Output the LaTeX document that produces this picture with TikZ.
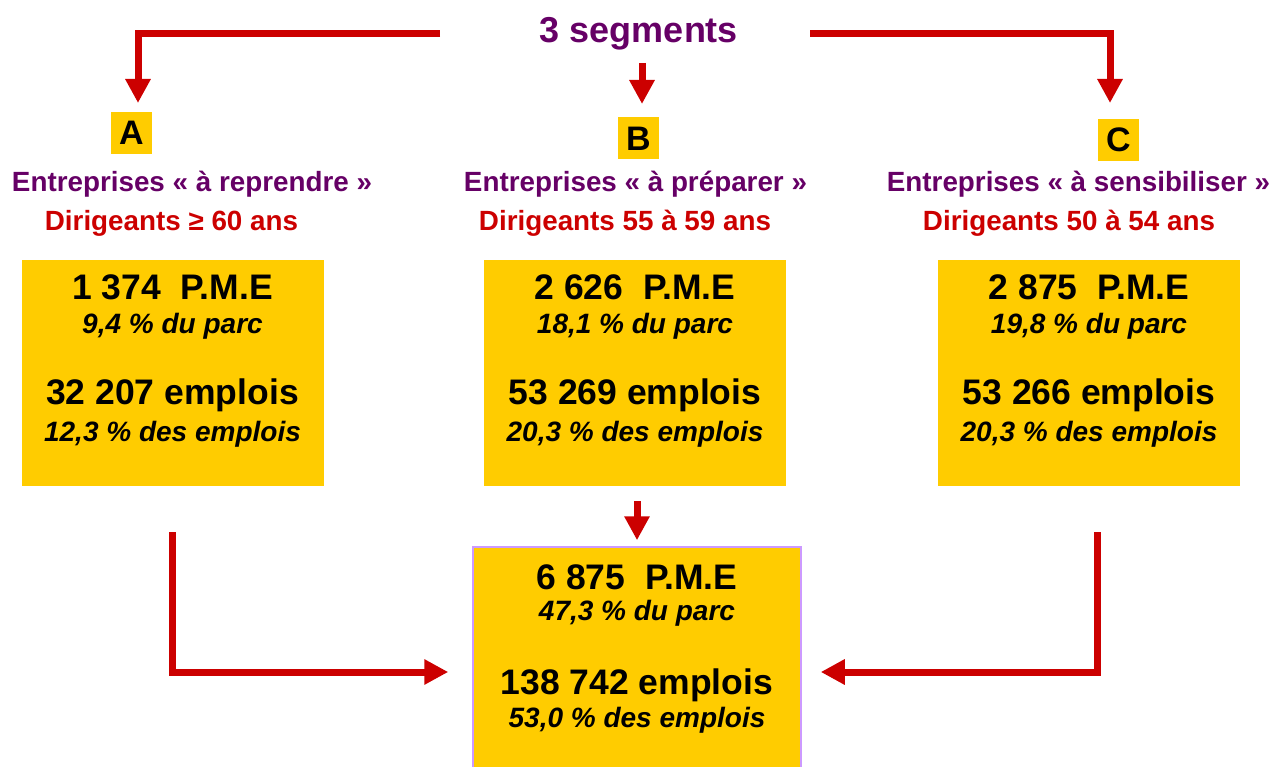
\documentclass[tikz,border=0pt]{standalone}
\usepackage{xcolor}
\usepackage{tikz}
\usepackage{fontspec}
\setmainfont{Liberation Sans}
\usetikzlibrary{arrows.meta, positioning}
\definecolor{rouge}{HTML}{CC0000}
\definecolor{violet}{HTML}{660066}
\definecolor{jaune}{HTML}{FFCC00}
\definecolor{mauve}{HTML}{CC99FF}

\begin{document}
\begin{tikzpicture}[x=1pt,y=-1pt]
        \clip (0,0) rectangle (1273,767);
        \begin{scope}[every node/.style={inner sep=0pt}]
          \node[fill=jaune,minimum width=302pt,minimum height=226pt] (bA) at (172.5,372.5) {};
          \node[fill=jaune,minimum width=302pt,minimum height=226pt] (bB) at (635,372.5) {};
          \node[fill=jaune,minimum width=302pt,minimum height=226pt] (bC) at (1089,372.5) {};
          \node[fill=jaune,draw=mauve,line width=1.5pt,minimum width=328pt,minimum height=250pt] (tot) at (637,672) {};
          \node[fill=jaune,minimum width=41pt,minimum height=42pt,font=\fontsize{34}{40}\selectfont\bfseries] (lA) at (131.5,133) {A};
          \node[fill=jaune,minimum width=41pt,minimum height=42pt,font=\fontsize{34}{40}\selectfont\bfseries] (lB) at (638.5,138.5) {B};
          \node[fill=jaune,minimum width=41pt,minimum height=42pt,font=\fontsize{34}{40}\selectfont\bfseries] (lC) at (1118.5,140) {C};
        \end{scope}
        \begin{scope}[every node/.style={anchor=base,font=\fontsize{27.8}{32}\selectfont\bfseries}]
          \node[text=violet,font=\fontsize{36}{42}\selectfont\bfseries] (segs) at (639,43) {3 segments};
          \node[text=violet] (eA) at (192,192) {Entreprises « à reprendre »};
          \node[text=rouge] (dA) at (171.5,230) {Dirigeants ≥ 60 ans};
          \node[text=violet] (eB) at (635.5,192) {Entreprises « à préparer »};
          \node[text=rouge] (dB) at (625,230) {Dirigeants 55 à 59 ans};
          \node[text=violet] (eC) at (1078.5,192) {Entreprises « à sensibiliser »};
          \node[text=rouge] (dC) at (1069,230) {Dirigeants 50 à 54 ans};
        \end{scope}
        \begin{scope}[every node/.style={anchor=base,font=\fontsize{35.5}{42}\selectfont\bfseries}]
          \node (pA) at (172.5,299) {1 374\ \ P.M.E};
          \node (jA) at (172.5,404) {32 207 emplois};
          \node (pB) at (635,299) {2 626\ \ P.M.E};
          \node (jB) at (635,404) {53 269 emplois};
          \node (pC) at (1089,299) {2 875\ \ P.M.E};
          \node (jC) at (1089,404) {53 266 emplois};
          \node (pT) at (637,589) {6 875\ \ P.M.E};
          \node (jT) at (637,694) {138 742 emplois};
        \end{scope}
        \begin{scope}[every node/.style={anchor=base,font=\fontsize{28}{32}\selectfont\bfseries\itshape}]
          \node (qA) at (172.5,333) {9,4 \% du parc};
          \node (rA) at (172.5,441) {12,3 \% des emplois};
          \node (qB) at (635,333) {18,1 \% du parc};
          \node (rB) at (635,441) {20,3 \% des emplois};
          \node (qC) at (1089,333) {19,8 \% du parc};
          \node (rC) at (1089,441) {20,3 \% des emplois};
          \node (qT) at (637,620) {47,3 \% du parc};
          \node (rT) at (637,727) {53,0 \% des emplois};
        \end{scope}
        \coordinate (gA) at (440,34);
        \coordinate (hA) at (138,103);
        \coordinate (gC) at (810,34);
        \coordinate (hC) at (1110,103);
        \coordinate (gB) at (642,63);
        \coordinate (hB) at (642,104);
        \coordinate (sA) at (172,532);
        \coordinate (sB) at (637,501);
        \coordinate (sC) at (1097,532);
        \begin{scope}[every path/.style={draw=rouge,line width=7pt,line join=miter,-{Triangle[length=24pt,width=24pt]}}]
          \path (gA) -| (hA);
          \path (gC) -| (hC);
          \path (gB) -- (hB);
          \path[shorten >=24pt] (sA) |- (tot.west);
          \path[shorten >=6pt] (sB) -- (tot.north);
          \path[shorten >=19pt] (sC) |- (tot.east);
        \end{scope}
      \end{tikzpicture}
\end{document}
